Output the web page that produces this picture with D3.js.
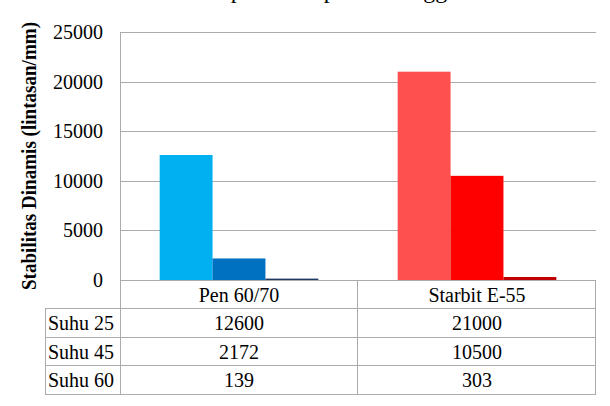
<!DOCTYPE html>
<html>
<head>
<meta charset="utf-8">
<script src="https://cdn.jsdelivr.net/npm/d3@7"></script>
<style>
  body { margin: 0; background: #fff; }
</style>
</head>
<body>
<svg id="chart" width="610" height="406"></svg>
<script>
// data
const categories = ['Pen 60/70', 'Starbit E-55'];
const seriesNames = ['Suhu 25', 'Suhu 45', 'Suhu 60'];
const suhu25 = [12600, 21000];
const suhu45 = [2172, 10500];
const suhu60 = [139, 303];
const yTicks = [0, 5000, 10000, 15000, 20000, 25000];
const penColors = ['#00B0F0', '#0070C0', '#1F3864'];
const starbitColors = ['#FF5050', '#FF0000', '#C00000'];

const seriesValues = [suhu25, suhu45, suhu60];
const catColors = [penColors, starbitColors];

const svg = d3.select('#chart').style('font-family', '"Liberation Serif"');
const plotLeft = 120, plotRight = 596, plotTop = 32, plotBottom = 280;
const rowH = 28.4, legendLeft = 45;
const gridColor = '#ABABAB';

svg.append('rect').attr('width', 610).attr('height', 406).attr('fill', '#fff');

// clipped title, only descenders visible
svg.append('text')
  .attr('x', 48).attr('y', -2)
  .attr('font-size', 24)
  .text('Stabilitas Dinamis pada Temperatur tinggi');

const x0 = d3.scaleBand().domain(categories).range([plotLeft, plotRight]);
const x1 = d3.scaleBand().domain(seriesNames).range([0, x0.bandwidth()]).paddingInner(0).paddingOuter(0.75);
const y = d3.scaleLinear().domain([0, 25000]).range([plotBottom, plotTop]);

// gridlines
svg.append('g')
  .selectAll('line')
  .data(yTicks)
  .join('line')
    .attr('x1', plotLeft).attr('x2', plotRight)
    .attr('y1', d => Math.round(y(d)) + 0.5).attr('y2', d => Math.round(y(d)) + 0.5)
    .attr('stroke', gridColor).attr('stroke-width', 1);

// y tick labels
svg.append('g')
  .selectAll('text')
  .data(yTicks)
  .join('text')
    .attr('x', 103).attr('y', d => y(d))
    .attr('dy', '0.35em')
    .attr('text-anchor', 'end')
    .attr('font-size', 20)
    .text(d => d);

// bars
const cells = [];
categories.forEach((c, ci) => {
  seriesNames.forEach((s, si) => {
    cells.push({cat: c, ser: s, value: seriesValues[si][ci], color: catColors[ci][si]});
  });
});
svg.append('g')
  .selectAll('rect')
  .data(cells)
  .join('rect')
    .attr('x', d => x0(d.cat) + x1(d.ser))
    .attr('y', d => y(d.value))
    .attr('width', x1.bandwidth())
    .attr('height', d => plotBottom - y(d.value))
    .attr('fill', d => d.color);

// data table
const table = svg.append('g').attr('stroke', gridColor).attr('stroke-width', 1);
const rowY = [0, 1, 2, 3, 4].map(i => Math.round(plotBottom + i * rowH) + 0.5);
rowY.forEach((ry, i) => {
  table.append('line')
    .attr('x1', i === 0 ? plotLeft : legendLeft).attr('x2', plotRight)
    .attr('y1', ry).attr('y2', ry);
});
table.append('line').attr('x1', plotLeft + 0.5).attr('x2', plotLeft + 0.5).attr('y1', plotTop).attr('y2', rowY[4]);
table.append('line').attr('x1', legendLeft + 0.5).attr('x2', legendLeft + 0.5).attr('y1', rowY[1]).attr('y2', rowY[4]);
categories.forEach(c => {
  const xr = Math.round(x0(c) + x0.bandwidth()) - 0.5;
  table.append('line').attr('x1', xr).attr('x2', xr).attr('y1', rowY[0]).attr('y2', rowY[4]);
});

const tText = svg.append('g').attr('font-size', 20).attr('fill', '#000');
categories.forEach((c, ci) => {
  tText.append('text')
    .attr('x', x0(c) + x0.bandwidth() / 2)
    .attr('y', (rowY[0] + rowY[1]) / 2)
    .attr('dy', '0.35em')
    .attr('text-anchor', 'middle')
    .text(c);
  seriesValues.forEach((vals, si) => {
    tText.append('text')
      .attr('x', x0(c) + x0.bandwidth() / 2)
      .attr('y', (rowY[si + 1] + rowY[si + 2]) / 2)
      .attr('dy', '0.35em')
      .attr('text-anchor', 'middle')
      .text(vals[ci]);
  });
});
seriesNames.forEach((s, si) => {
  tText.append('text')
    .attr('x', 48)
    .attr('y', (rowY[si + 1] + rowY[si + 2]) / 2)
    .attr('dy', '0.35em')
    .text(s);
});

// y axis title
svg.append('text')
  .attr('transform', 'translate(36,156) rotate(-90)')
  .attr('text-anchor', 'middle')
  .attr('font-size', 22)
  .attr('font-weight', 'bold')
  .attr('textLength', 268)
  .attr('lengthAdjust', 'spacingAndGlyphs')
  .text('Stabilitas Dinamis (lintasan/mm)');
</script>
</body>
</html>
